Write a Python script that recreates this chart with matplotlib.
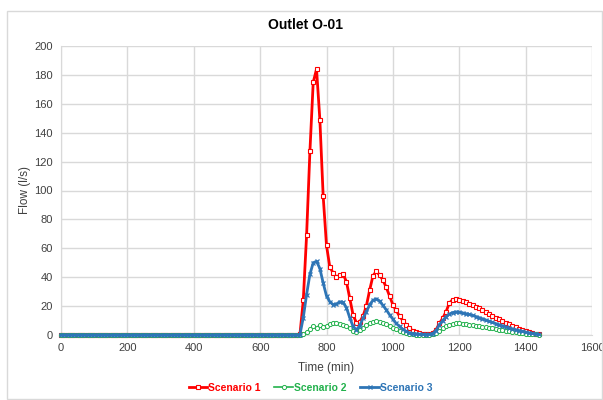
import matplotlib
matplotlib.use("Agg")
import matplotlib.pyplot as plt
from matplotlib.patches import Rectangle

plt.rcParams['font.family'] = ['Liberation Sans', 'DejaVu Sans']

time_min = list(range(0, 1450, 10))

zeros_before = [0.0] * 72  # 0..710 min, flat baseline

scenario1 = zeros_before + [
    0.5, 24, 69, 127, 175, 184, 149, 96, 62, 47,
    43, 40, 41.5, 42, 37, 25.5, 14, 8.5, 9, 13,
    20, 31, 41, 44, 41.5, 38, 33, 27, 21, 17,
    13, 10, 7, 4.5, 3, 2, 1.3, 1, 0.8, 0.8,
    1.5, 3.5, 8, 11.5, 16, 22, 24.5, 25, 24.5, 23.5,
    22.5, 21.5, 20.5, 19.5, 18.5, 17.2, 16, 14.5, 13.3, 12,
    10.8, 9.6, 8.5, 7.4, 6.3, 5.3, 4.4, 3.5, 2.7, 2,
    1.4, 0.9, 0.5]

scenario2 = zeros_before + [
    0, 0.5, 2, 4, 6, 5, 7, 5.5, 6.5, 7.5,
    8.5, 8.5, 7.5, 7, 6, 4.5, 3, 2, 3.5, 5,
    7, 8.5, 9.3, 9.7, 9.2, 8.5, 7.8, 6.5, 5, 4,
    3, 2, 1.2, 0.8, 0.5, 0.3, 0.2, 0.2, 0.1, 0.2,
    0.5, 1.2, 2.5, 4.5, 6, 7, 7.8, 8, 8, 7.8,
    7.5, 7.2, 6.9, 6.5, 6.1, 5.7, 5.3, 4.9, 4.5, 4.1,
    3.7, 3.3, 2.9, 2.5, 2.2, 1.9, 1.6, 1.3, 1, 0.8,
    0.6, 0.4, 0.2]

scenario3 = zeros_before + [
    0.3, 12, 28, 42, 50, 51, 46, 36, 27, 23,
    21, 21.5, 23, 22.5, 19, 12, 6, 3.5, 6.5, 11.5,
    16, 21, 24, 25, 23.5, 20.5, 17.5, 14, 11, 8,
    6, 4, 2.5, 1.5, 1, 0.8, 0.5, 0.4, 0.3, 0.4,
    1, 3, 7, 10, 12.5, 14.5, 15.5, 16, 15.8, 15.3,
    14.8, 14.2, 13.5, 12.8, 12, 11.2, 10.4, 9.5, 8.7, 7.9,
    7.1, 6.4, 5.7, 5, 4.3, 3.7, 3.1, 2.5, 2, 1.5,
    1.1, 0.7, 0.4]

series_names = ['Scenario 1', 'Scenario 2', 'Scenario 3']
colors = ['#FF0000', '#22B14C', '#2E75B6']

fig = plt.figure(figsize=(6.03, 4.0), dpi=100)
fig.patches.append(Rectangle((7/603, 1/400), 595/603, 388/400, transform=fig.transFigure,
                             fill=False, edgecolor='#d9d9d9', linewidth=1))
ax = fig.add_axes([61/603, 1-335/400, (592-61)/603, (335-46)/400])

ax.plot(time_min, scenario1, color=colors[0], lw=2, marker='s', ms=3.4,
        mfc='white', mec=colors[0], mew=0.8, label=series_names[0], zorder=3, clip_on=False)
ax.plot(time_min, scenario2, color=colors[1], lw=1.2, marker='o', ms=3.0,
        mfc='white', mec=colors[1], mew=0.7, label=series_names[1], zorder=4, clip_on=False)
ax.plot(time_min, scenario3, color=colors[2], lw=2, marker='x', ms=3.2,
        mec=colors[2], mew=0.9, label=series_names[2], zorder=5, clip_on=False)

ax.set_xlim(0, 1600)
ax.set_ylim(0, 200)
ax.set_xticks(range(0, 1601, 200))
ax.set_yticks(range(0, 201, 20))
ax.grid(True, color='#d9d9d9', lw=1)
ax.set_axisbelow(True)
for s in ['top', 'right']:
    ax.spines[s].set_visible(False)
for s in ['left', 'bottom']:
    ax.spines[s].set_color('#d9d9d9')
ax.tick_params(length=0, labelsize=8, colors='#404040', pad=6)

fig.text(306/603, 1-25/400, 'Outlet O-01', fontsize=10, fontweight='bold',
         color='black', ha='center', va='center')
ax.set_xlabel('Time (min)', fontsize=8.5, color='#404040', labelpad=6)
ax.set_ylabel('Flow (l/s)', fontsize=8.5, color='#404040', labelpad=2)

leg = ax.legend(loc='center', bbox_to_anchor=(0.47, (388-335)/-289), ncol=3,
                frameon=False, handlelength=1.8, columnspacing=1.3,
                handletextpad=0.1, prop={'weight': 'bold', 'size': 7.5})
for txt, c in zip(leg.get_texts(), colors):
    txt.set_color(c)

fig.savefig('out.png', dpi=100)
